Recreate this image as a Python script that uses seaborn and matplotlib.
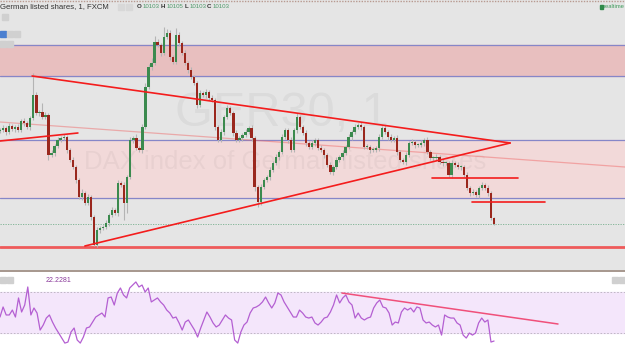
import numpy as np
import pandas as pd
import seaborn as sns
import matplotlib.pyplot as plt
from matplotlib.patches import Rectangle

# --- data (1-minute GER30 candles, FXCM) ---
closes = [
    10197, 10199, 10195, 10201, 10198, 10200, 10197, 10206, 10204, 10200,
    10209, 10232, 10214, 10215, 10210, 10212, 10172, 10174, 10181, 10187,
    10189, 10190, 10177, 10167, 10160, 10147, 10130, 10134, 10124, 10130,
    10110, 10082, 10097, 10099, 10100, 10104, 10112, 10117, 10114, 10144,
    10142, 10124, 10150, 10187, 10189, 10179, 10177, 10200, 10240, 10260,
    10264, 10285, 10282, 10274, 10290, 10294, 10270, 10265, 10292, 10284,
    10274, 10264, 10257, 10250, 10244, 10222, 10234, 10232, 10235, 10229,
    10227, 10200, 10187, 10195, 10210, 10219, 10214, 10194, 10187, 10189,
    10192, 10195, 10199, 10189, 10140, 10125, 10140, 10147, 10150, 10157,
    10164, 10170, 10175, 10190, 10197, 10187, 10177, 10197, 10210, 10200,
    10194, 10184, 10180, 10184, 10187, 10179, 10177, 10172, 10162, 10155,
    10160, 10167, 10170, 10174, 10180, 10190, 10195, 10200, 10202, 10200,
    10180, 10180, 10177, 10177, 10179, 10190, 10199, 10195, 10190, 10187,
    10189, 10175, 10167, 10165, 10172, 10184, 10185, 10182, 10182, 10184,
    10187, 10175, 10169, 10169, 10170, 10165, 10164, 10164, 10152, 10164,
    10162, 10160, 10160, 10152, 10139, 10134, 10135, 10132, 10139, 10142,
    10139, 10134, 10109, 10103,
]
first_open = 10196
wick_up = [
    2, 3, 2, 3, 2, 2, 3, 2, 3, 2,
    2, 22, 3, 2, 9, 3, 2, 3, 2, 3,
    2, 3, 2, 2, 3, 2, 2, 4, 2, 3,
    2, 2, 3, 2, 2, 3, 2, 3, 2, 3,
    2, 3, 2, 3, 2, 4, 2, 3, 4, 3,
    5, 6, 3, 2, 10, 4, 3, 2, 7, 3,
    2, 3, 2, 3, 2, 2, 3, 2, 3, 2,
    3, 2, 2, 3, 2, 3, 2, 2, 3, 2,
    2, 3, 2, 3, 2, 2, 3, 2, 2, 3,
    2, 3, 2, 3, 2, 2, 3, 2, 4, 2,
    2, 3, 2, 3, 2, 2, 3, 2, 2, 3,
    2, 3, 2, 3, 2, 3, 2, 3, 2, 3,
    2, 3, 2, 3, 2, 3, 2, 3, 2, 3,
    2, 3, 2, 2, 3, 2, 3, 2, 2, 3,
    2, 3, 2, 2, 3, 2, 3, 2, 2, 3,
    2, 3, 2, 2, 3, 2, 3, 2, 2, 3,
    2, 3, 2, 1,
]
wick_dn = [
    2, 2, 3, 2, 2, 3, 2, 2, 3, 2,
    3, 2, 2, 3, 2, 2, 5, 2, 3, 2,
    2, 2, 3, 2, 2, 3, 2, 3, 2, 2,
    3, 1, 2, 3, 2, 2, 3, 2, 2, 3,
    2, 17, 10, 2, 3, 2, 2, 3, 2, 2,
    3, 2, 2, 3, 2, 2, 3, 2, 2, 3,
    2, 2, 3, 2, 2, 3, 2, 2, 3, 2,
    2, 3, 2, 2, 3, 2, 2, 3, 2, 2,
    3, 2, 2, 3, 4, 5, 3, 2, 2, 3,
    2, 2, 3, 2, 2, 3, 2, 2, 3, 2,
    2, 3, 2, 2, 3, 2, 2, 3, 2, 2,
    3, 2, 2, 3, 2, 2, 3, 2, 2, 3,
    2, 2, 3, 2, 2, 3, 2, 2, 3, 2,
    2, 3, 2, 2, 3, 2, 2, 3, 2, 2,
    3, 2, 2, 3, 2, 2, 3, 2, 2, 3,
    2, 2, 3, 2, 2, 3, 2, 2, 3, 2,
    2, 3, 2, 1,
]

rsi = [
    45.6, 55.4, 47.6, 47.6, 52.4, 45.6, 64.2, 50.5, 57.3, 74.9,
    47.6, 54.4, 49.5, 32.9, 37.8, 44.6, 47.6, 40.7, 34.9, 30.0,
    25.1, 20.2, 21.2, 31.0, 34.9, 23.2, 20.2, 26.1, 34.9, 35.9,
    40.7, 45.6, 47.6, 49.5, 45.6, 64.2, 65.1, 57.3, 69.0, 73.9,
    67.1, 64.2, 73.9, 76.8, 79.8, 74.9, 76.8, 70.0, 73.9, 60.3,
    62.2, 64.2, 60.3, 57.3, 52.4, 49.5, 44.6, 45.6, 39.8, 32.9,
    40.7, 42.7, 37.8, 32.9, 26.1, 34.9, 42.7, 50.5, 45.6, 39.8,
    35.9, 37.8, 42.7, 47.6, 44.6, 42.7, 23.2, 20.2, 31.0, 37.8,
    40.7, 49.5, 54.4, 55.4, 57.3, 60.3, 65.1, 59.3, 54.4, 59.3,
    69.0, 67.1, 60.3, 55.4, 50.5, 45.6, 45.6, 52.4, 49.5, 45.6,
    44.6, 45.6, 39.8, 37.8, 40.7, 44.6, 45.6, 50.5, 57.3, 67.1,
    59.3, 64.2, 67.1, 60.3, 57.3, 44.6, 49.5, 44.6, 42.7, 44.6,
    45.6, 54.4, 59.3, 62.2, 55.4, 54.4, 49.5, 37.8, 40.7, 39.8,
    50.5, 54.4, 52.4, 54.4, 50.5, 55.4, 54.4, 42.7, 39.8, 40.7,
    37.8, 35.9, 37.8, 28.0, 47.6, 45.6, 44.6, 44.6, 39.8, 37.8,
    28.0, 25.1, 30.0, 28.0, 30.0, 39.8, 44.6, 40.7, 42.7, 21.2,
    22.2,
]

# price levels / zones
zone_top = (10251, 10282)
zone_mid = (10129, 10187)
blue_levels = [10282, 10251, 10187, 10129]
support_level = 10080.5
last_price = 10103

# trend lines (bar index, price)
down_line = ([10.6, 168.3], [10251, 10184])
up_line = ([28.0, 168.3], [10081, 10184])
short_line = ([0, 25.7], [10186, 10194])
faint_line = ([0, 206.2], [10205, 10160])
h_line1 = ([142.5, 170.9], [10149, 10149])
h_line2 = ([155.7, 179.8], [10125, 10125])
rsi_line = ([112.8, 184.1], [69.0, 38.8])

# --- build candle frame ---
n = len(closes)
df = pd.DataFrame({"bar": np.arange(n), "close": closes})
df["open"] = [first_open] + closes[:-1]
df["high"] = df[["open", "close"]].max(axis=1) + np.array(wick_up)
df["low"] = df[["open", "close"]].min(axis=1) - np.array(wick_dn)
df["up"] = df["close"] >= df["open"]

sns.set_style("white")
plt.rcParams["font.family"] = ["Liberation Sans", "DejaVu Sans"]

fig = plt.figure(figsize=(6.25, 3.52), dpi=100)
fig.patch.set_facecolor("#e5e5e5")

ax = fig.add_axes([0, 81 / 352, 1, 269 / 352])
ax2 = fig.add_axes([0, 0, 1, 80 / 352])

# --- main pane ---
ax.set_facecolor("#e5e5e5")
ax.axhspan(*zone_top, color="#e8bfbf", zorder=0)
ax.axhspan(*zone_mid, color="#f2d9d9", zorder=0)
for lv in blue_levels:
    ax.axhline(lv, color="#8686c8", lw=0.9, zorder=1)
ax.axhline(support_level, color="#ef5a5a", lw=2.0, zorder=1)
ax.axhline(last_price, color="#79b08f", lw=0.6, ls=(0, (1.5, 1.5)), zorder=1)

# watermark
ax.text(0.451, 0.585, "GER30, 1", transform=ax.transAxes, fontsize=35,
        color="black", alpha=0.045, ha="center", va="center", zorder=1)
ax.text(0.456, 0.405, "DAX index of German listed shares", transform=ax.transAxes,
        fontsize=18.5, color="black", alpha=0.04, ha="center", va="center", zorder=1)

ax.plot(*faint_line, color="#f06060", lw=0.9, alpha=0.45, zorder=2)

# candles
ax.vlines(df["bar"], df["low"], df["high"], color="#b4b4b4", lw=0.8, zorder=3)
body_bottom = df[["open", "close"]].min(axis=1)
body_height = (df["close"] - df["open"]).abs().clip(lower=0.8)
colors = np.where(df["up"], "#3b8a4e", "#9a271d")
ax.bar(df["bar"], body_height, bottom=body_bottom, width=0.75, color=colors,
       linewidth=0, zorder=4)

for xs, ys in [down_line, up_line, short_line, h_line1, h_line2]:
    ax.plot(xs, ys, color="#f41c1c", lw=1.2, zorder=5)

xmax = 206.2
ax.set_xlim(0, xmax)
ax.set_ylim(10056, 10325)
ax.set_xticks([])
ax.set_yticks([])
for s in ["top", "left", "right"]:
    ax.spines[s].set_visible(False)
ax.spines["bottom"].set_color("#9c8a80")
ax.spines["bottom"].set_linewidth(1.2)

# --- oscillator pane ---
ax2.set_facecolor("white")
ax2.axhspan(30, 70, color="#f4e6fb", zorder=0)
for lv in (30, 70):
    ax2.axhline(lv, color="#b8b0bc", lw=0.6, ls=(0, (2, 2)), zorder=1)
rsi_x = np.linspace(0, n - 1, len(rsi))
sns.lineplot(x=rsi_x, y=rsi, ax=ax2, color="#b45fd2", lw=0.9, zorder=3)
ax2.plot(*rsi_line, color="#f0507a", lw=1.1, zorder=4)
ax2.set_xlim(0, xmax)
ax2.set_ylim(11.5, 89.5)
ax2.set_xticks([])
ax2.set_yticks([])
ax2.set_xlabel("")
ax2.set_ylabel("")
for s in ax2.spines.values():
    s.set_visible(False)
ax2.text(15, 81.5, "22.2281", fontsize=5, color="#8a3a9a", va="center")

# --- header texts ---
W, H = 625, 352


def ftext(x, y, s, **kw):
    fig.text(x / W, 1 - y / H, s, va="center", **kw)


ftext(0, 7, "German listed shares, 1, FXCM", fontsize=5.6, color="#333333")
hdr = [(137, "O", "#333333"), (143, "10103", "#4e9a6a"),
       (161, "H", "#333333"), (167, "10105", "#4e9a6a"),
       (185, "L", "#333333"), (190, "10103", "#4e9a6a"),
       (207, "C", "#333333"), (213, "10103", "#4e9a6a")]
for x, s, c in hdr:
    ftext(x, 7, s, fontsize=4.4, color=c, weight="bold" if c == "#333333" else "normal")
ftext(624, 7, "realtime", fontsize=4.2, color="#3d9a5a", ha="right")
fig.patches.append(Rectangle((600 / W, 1 - 8.5 / H), 3 / W, 3 / H, transform=fig.transFigure,
                             color="#2f8a4a", figure=fig))

# small toolbar squares
for (x, y, c) in [(118, 4, "#d8d8d8"), (126, 4, "#d8d8d8"), (2, 14, "#d0d0d0"),
                  (0, 31, "#4a7fd0"), (7, 31, "#d0d0d0"), (14, 31, "#d0d0d0"),
                  (0, 41, "#d0d0d0"), (7, 41, "#d0d0d0"),
                  (0, 277, "#d0d0d0"), (7, 277, "#d0d0d0"),
                  (612, 277, "#d0d0d0"), (619, 277, "#d0d0d0")]:
    fig.patches.append(Rectangle((x / W, 1 - (y + 6) / H), 6 / W, 6 / H,
                                 transform=fig.transFigure, color=c, figure=fig))

# dotted border at very top
fig.add_artist(plt.Line2D([0, 1], [1 - 0.8 / H, 1 - 0.8 / H], transform=fig.transFigure,
                          color="#b89a90", lw=1, ls=(0, (1, 1))))

fig.savefig("out.png", dpi=100)
